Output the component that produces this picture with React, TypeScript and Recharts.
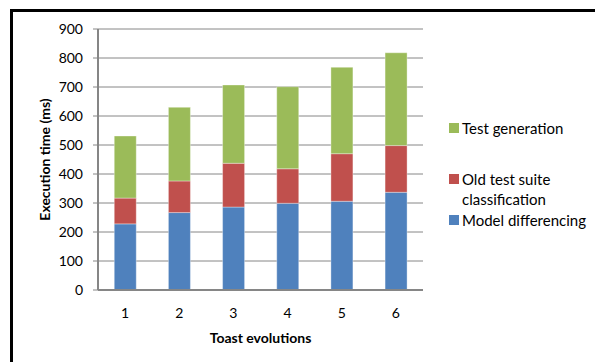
import React from 'react';
import { BarChart, Bar, XAxis, YAxis, CartesianGrid } from 'recharts';

const evolutions = ['1', '2', '3', '4', '5', '6'];
const modelDifferencing = [228, 267, 286, 299, 306, 337];
const oldSuiteClassification = [89, 109, 151, 119, 164, 161];
const testGeneration = [214, 254, 270, 283, 298, 320];
const yTicks = [0, 100, 200, 300, 400, 500, 600, 700, 800, 900];
const boundaryTicks = [0, 1, 2, 3, 4, 5, 6];

const SERIES = [
  { key: 'model', name: 'Model differencing', color: '#4F81BD' },
  { key: 'old', name: 'Old test suite classification', color: '#C0504D' },
  { key: 'gen', name: 'Test generation', color: '#9BBB59' },
];

const data = evolutions.map((label, i) => ({
  label,
  model: modelDifferencing[i],
  old: oldSuiteClassification[i],
  gen: testGeneration[i],
}));

const FONT = 'Lato, "Open Sans", sans-serif';
const AXIS = '#868686';

// Excel-style legend: top series first, square swatch, long names wrap
function ChartLegend() {
  const items = [...SERIES].reverse();
  return (
    <div
      style={{
        position: 'absolute',
        left: 449,
        top: 118,
        fontFamily: FONT,
        fontSize: 15,
        color: '#000',
        lineHeight: '20.5px',
      }}
    >
      {items.map((s, i) => (
        <div
          key={s.key}
          style={{ display: 'flex', alignItems: 'flex-start', marginTop: i === 1 ? 30 : 0 }}
        >
          <span
            style={{
              width: 10,
              height: 10,
              background: s.color,
              marginTop: 5,
              marginRight: 3,
              flex: 'none',
            }}
          />
          <span style={{ width: 132 }}>{s.name}</span>
        </div>
      ))}
    </div>
  );
}

export default function App() {
  return (
    <div style={{ position: 'absolute', left: 0, top: 0, width: 595, height: 362, background: '#fff', overflow: 'hidden' }}>
      <div
        style={{
          position: 'absolute',
          left: 10,
          top: 9,
          width: 700,
          height: 500,
          border: '3px solid #000',
        }}
      />
      <div style={{ position: 'absolute', left: 0, top: 0 }}>
        <BarChart
          width={595}
          height={362}
          data={data}
          margin={{ top: 29, right: 172, bottom: 22, left: 38 }}
          barCategoryGap="30%"
        >
          <CartesianGrid vertical={false} stroke={AXIS} strokeWidth={1} />
          <XAxis
            xAxisId="bounds"
            type="number"
            domain={[0, 6]}
            ticks={boundaryTicks}
            allowDataOverflow
            height={0}
            axisLine={false}
            tick={false}
            tickLine={{ stroke: AXIS }}
            tickSize={5}
          />
          <XAxis
            dataKey="label"
            height={50}
            axisLine={{ stroke: AXIS, strokeWidth: 2 }}
            tickLine={false}
            tickSize={0}
            tickMargin={18}
            tick={{ fill: '#000', fontSize: 14, fontFamily: FONT }}
            label={{
              content: ({ viewBox }: any) => (
                <text
                  x={viewBox.x + viewBox.width / 2}
                  y={337}
                  textAnchor="middle"
                  dominantBaseline="central"
                  fontFamily={FONT}
                  fontSize={14}
                  fontWeight="bold"
                  fill="#000"
                >
                  Toast evolutions
                </text>
              ),
            }}
          />
          <YAxis
            width={60}
            domain={[0, 900]}
            ticks={yTicks}
            interval={0}
            axisLine={{ stroke: AXIS, strokeWidth: 2 }}
            tickLine={{ stroke: AXIS }}
            tickSize={5}
            tickMargin={10}
            tick={{ fill: '#000', fontSize: 14, fontFamily: FONT }}
            label={{
              content: ({ viewBox }: any) => {
                const x = 44;
                const y = viewBox.y + viewBox.height / 2;
                return (
                  <text
                    x={x}
                    y={y}
                    transform={`rotate(-90, ${x}, ${y})`}
                    textAnchor="middle"
                    dominantBaseline="central"
                    fontFamily={FONT}
                    fontSize={14}
                    fontWeight="bold"
                    fill="#000"
                  >
                    Execution time (ms)
                  </text>
                );
              },
            }}
          />
          {SERIES.map((s) => (
            <Bar
              key={s.key}
              dataKey={s.key}
              name={s.name}
              stackId="t"
              fill={s.color}
              stroke="#ffffff"
              strokeOpacity={0.35}
              strokeWidth={1}
              isAnimationActive={false}
            />
          ))}
        </BarChart>
      </div>
      <ChartLegend />
    </div>
  );
}
